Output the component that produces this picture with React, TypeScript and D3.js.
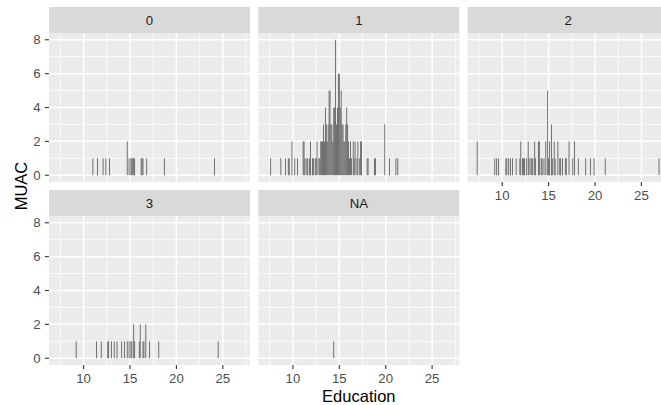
import React from "react";
import * as d3 from "d3";

// Facet labels
const facets = ["0", "1", "2", "3", "NA"];

// Values (x = Education) and bar heights (MUAC) per facet
const values0 = [11.0, 11.5, 12.1, 12.4, 12.8, 14.7, 14.9, 15.1, 15.2, 15.3, 15.4, 15.5, 16.2, 16.3, 16.4, 16.8, 18.7, 24.1];
const counts0 = [1, 1, 1, 1, 1, 2, 1, 1, 1, 1, 1, 1, 1, 1, 1, 1, 1, 1];

const values1 = [7.6, 8.7, 9.2, 9.5, 9.6, 9.9, 10.2, 10.5, 11.1, 11.2, 11.3, 11.5, 11.6, 11.8, 11.9, 12.1, 12.2, 12.4, 12.5, 12.6, 12.8, 12.9, 13.0, 13.1, 13.2, 13.3, 13.4, 13.5, 13.6, 13.7, 13.8, 13.9, 14.0, 14.1, 14.2, 14.3, 14.4, 14.5, 14.6, 14.7, 14.8, 14.9, 15.0, 15.1, 15.2, 15.3, 15.4, 15.5, 15.6, 15.7, 15.8, 15.9, 16.0, 16.1, 16.2, 16.3, 16.5, 16.6, 16.7, 16.9, 17.0, 17.2, 17.3, 17.4, 18.0, 18.1, 18.8, 18.9, 19.9, 20.4, 21.1, 21.3];
const counts1 = [1, 1, 1, 1, 1, 2, 1, 1, 2, 2, 1, 1, 1, 1, 2, 1, 1, 1, 1, 2, 1, 1, 2, 2, 2, 3, 2, 4, 3, 2, 3, 5, 5, 3, 3, 2, 4, 4, 8, 3, 4, 6, 6, 4, 5, 3, 3, 2, 2, 3, 4, 3, 2, 1, 2, 1, 2, 1, 2, 1, 2, 1, 2, 2, 1, 1, 1, 1, 3, 1, 1, 1];

const values2 = [7.3, 9.2, 9.4, 9.6, 10.4, 10.5, 10.7, 10.9, 11.1, 11.5, 11.9, 12.0, 12.2, 12.3, 12.4, 12.6, 12.8, 12.9, 13.1, 13.2, 13.3, 13.5, 13.6, 13.9, 14.0, 14.2, 14.3, 14.5, 14.7, 14.9, 15.0, 15.1, 15.3, 15.4, 15.6, 15.7, 16.0, 16.2, 16.3, 16.5, 16.8, 16.9, 17.2, 17.6, 17.8, 18.2, 19.0, 19.5, 19.9, 21.1, 26.9];
const counts2 = [2, 1, 1, 1, 1, 1, 1, 1, 1, 1, 1, 2, 1, 1, 1, 1, 2, 1, 1, 1, 1, 2, 1, 2, 2, 1, 1, 1, 2, 5, 1, 2, 3, 1, 2, 1, 2, 1, 1, 1, 1, 1, 2, 1, 2, 1, 1, 1, 1, 1, 1];

const values3 = [9.2, 11.4, 11.9, 12.6, 12.7, 13.0, 13.3, 13.6, 14.1, 14.4, 14.7, 14.9, 15.1, 15.2, 15.4, 15.5, 16.0, 16.1, 16.4, 16.5, 16.7, 17.1, 18.1, 24.5];
const counts3 = [1, 1, 1, 1, 1, 1, 1, 1, 1, 1, 1, 1, 1, 1, 2, 1, 1, 2, 1, 1, 2, 1, 1, 1];

const valuesNA = [14.4];
const countsNA = [1];

const facetValues = [values0, values1, values2, values3, valuesNA];
const facetCounts = [counts0, counts1, counts2, counts3, countsNA];

const xTicks = [10, 15, 20, 25];
const xMinor = [7.5, 12.5, 17.5, 22.5, 27.5];
const yTicks = [0, 2, 4, 6, 8];
const yMinor = [1, 3, 5, 7];

const W = 661;
const H = 405;
const FONT = "'Liberation Sans', Arial, Helvetica, sans-serif";
const TICK_FS = 13.2;
const TITLE_FS = 16.5;

export default function App() {
  const barW = 0.09;
  const allX = facetValues.flat();
  const allY = facetCounts.flat();
  const xMin = (d3.min(allX) as number) - barW / 2;
  const xMax = (d3.max(allX) as number) + barW / 2;
  const xPad = (xMax - xMin) * 0.05;
  const yMax = d3.max(allY) as number;
  const yPad = yMax * 0.05;

  const panelW = 201;
  const panelH = 149;
  const stripH = 26;
  const colLeft = [49, 258.3, 467.6];
  const rowStripTop = [7, 190];

  const x = d3.scaleLinear().domain([xMin - xPad, xMax + xPad]).range([0, panelW]);
  const y = d3.scaleLinear().domain([-yPad, yMax + yPad]).range([panelH, 0]);

  const panels = facets.map((f, i) => {
    const col = i % 3;
    const row = Math.floor(i / 3);
    const left = colLeft[col];
    const stripTop = rowStripTop[row];
    const top = stripTop + stripH;
    const showX = row === 1 || i === 2;
    const showY = col === 0;
    const vals = facetValues[i];
    const cnts = facetCounts[i];
    const bw = x(barW) - x(0);
    return (
      <g key={f}>
        <rect x={left} y={stripTop} width={panelW} height={stripH} fill="#D9D9D9" />
        <text x={left + panelW / 2} y={stripTop + stripH / 2 + 4.7} textAnchor="middle" fontSize={TICK_FS} fill="#1A1A1A" fontFamily={FONT}>
          {f}
        </text>
        <g transform={`translate(${left},${top})`}>
          <rect x={0} y={0} width={panelW} height={panelH} fill="#EBEBEB" />
          {yMinor.map((t) => (
            <line key={"ym" + t} x1={0} x2={panelW} y1={y(t)} y2={y(t)} stroke="#fff" strokeWidth={0.75} />
          ))}
          {xMinor.map((t) => (
            <line key={"xm" + t} y1={0} y2={panelH} x1={x(t)} x2={x(t)} stroke="#fff" strokeWidth={0.75} />
          ))}
          {yTicks.map((t) => (
            <line key={"yM" + t} x1={0} x2={panelW} y1={y(t)} y2={y(t)} stroke="#fff" strokeWidth={1.5} />
          ))}
          {xTicks.map((t) => (
            <line key={"xM" + t} y1={0} y2={panelH} x1={x(t)} x2={x(t)} stroke="#fff" strokeWidth={1.5} />
          ))}
          {vals.map((v, j) => (
            <rect key={"b" + j} x={x(v - barW / 2)} width={bw} y={y(cnts[j])} height={y(0) - y(cnts[j])} fill="#595959" />
          ))}
          {showY &&
            yTicks.map((t) => (
              <g key={"yt" + t}>
                <line x1={-4.1} x2={0} y1={y(t)} y2={y(t)} stroke="#333333" strokeWidth={1.1} />
                <text x={-8.5} y={y(t) + 4.7} textAnchor="end" fontSize={TICK_FS} fill="#4D4D4D" fontFamily={FONT}>
                  {t}
                </text>
              </g>
            ))}
          {showX &&
            xTicks.map((t) => (
              <g key={"xt" + t}>
                <line x1={x(t)} x2={x(t)} y1={panelH} y2={panelH + 4.1} stroke="#333333" strokeWidth={1.1} />
                <text x={x(t)} y={panelH + 18} textAnchor="middle" fontSize={TICK_FS} fill="#4D4D4D" fontFamily={FONT}>
                  {t}
                </text>
              </g>
            ))}
        </g>
      </g>
    );
  });

  const fullLeft = colLeft[0];
  const fullRight = colLeft[2] + panelW;
  const fullTop = rowStripTop[0];
  const fullBottom = rowStripTop[1] + stripH + panelH;

  return (
    <svg width={W} height={H} style={{ position: "absolute", left: 0, top: 0, background: "#fff" }}>
      <rect x={0} y={0} width={W} height={H} fill="#fff" />
      {panels}
      <text x={(fullLeft + fullRight) / 2} y={402} textAnchor="middle" fontSize={TITLE_FS} fill="#000" fontFamily={FONT}>
        Education
      </text>
      <text
        transform={`translate(${26.5},${(fullTop + fullBottom) / 2}) rotate(-90)`}
        textAnchor="middle"
        fontSize={TITLE_FS}
        fill="#000"
        fontFamily={FONT}
      >
        MUAC
      </text>
    </svg>
  );
}
